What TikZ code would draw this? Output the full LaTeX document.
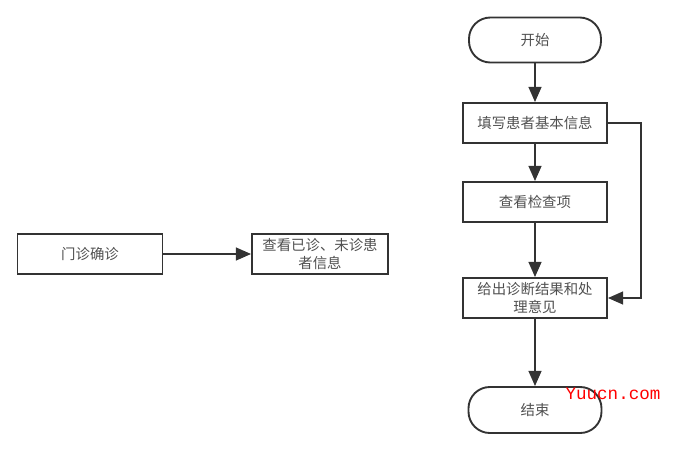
\documentclass[tikz,border=0pt]{standalone}
\usepackage{fontspec}
\setmainfont{Noto Sans CJK SC}
\newfontfamily\markfont{Liberation Mono}
\usetikzlibrary{arrows.meta}
\definecolor{linegray}{RGB}{51,51,51}
\definecolor{textgray}{RGB}{80,80,80}
\tikzset{
	box/.style={draw=linegray, line width=1.6pt, minimum width=4.32cm, minimum height=1.2cm,
		align=center, text=textgray, font=\fontsize{12.3}{15}\selectfont},
	term/.style={box, rounded corners=0.64cm, minimum width=3.96cm, minimum height=1.35cm},
	flow/.style={draw=linegray, line width=1.6pt, -{Triangle[length=13pt,width=11pt]}},
}
\begin{document}
\begin{tikzpicture}[x=0.03cm, y=-0.03cm]
		\useasboundingbox (0,0) rectangle (674,448);
		% 左側のノード
		\node[box, minimum width=4.35cm] (diag) at (90,254) {门诊确诊};
		\node[box, minimum width=4.08cm] (view) at (320,254) {查看已诊、未诊患\\者信息};
		% 右側の流れ図
		\node[term] (start) at (535,40) {开始};
		\node[box] (info) at (535,123) {填写患者基本信息};
		\node[box] (check) at (535,202) {查看检查项};
		\node[box] (result) at (535,298) {给出诊断结果和处\\理意见};
		\node[term, minimum width=3.99cm, minimum height=1.38cm] (stop) at (535,410) {结束};
		% 迂回路の点
		\coordinate (side) at (641,298);
		% 矢印の描画
		\draw[flow] (diag)--(view);
		\draw[flow] (start)--(info);
		\draw[flow] (info)--(check);
		\draw[flow] (check)--(result);
		\draw[flow] (result)--(stop);
		\draw[flow] (info.east) -| (side) -- (result.east);
		% 透かし文字
		\node[text=red, font=\markfont\fontsize{15}{15}\selectfont] (mark) at (613,394) {Yuucn.com};
	\end{tikzpicture}
\end{document}
